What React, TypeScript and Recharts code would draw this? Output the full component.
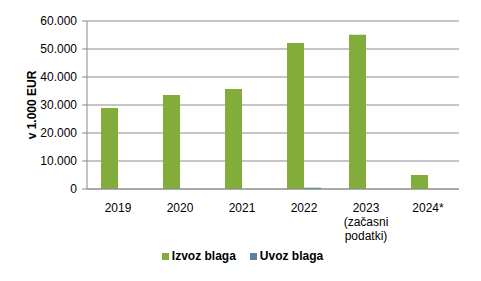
import { Bar, BarChart, CartesianGrid, Legend, XAxis, YAxis } from 'recharts'

const years = ['2019', '2020', '2021', '2022', '2023\n(začasni\npodatki)', '2024*']
const izvozBlaga = [28900, 33600, 35700, 52100, 55100, 5000]
const uvozBlaga = [0, 0, 0, 450, 0, 0]
const yTicks = [0, 10000, 20000, 30000, 40000, 50000, 60000]

const data = years.map((year, i) => ({
    year,
    izvoz: izvozBlaga[i],
    uvoz: uvozBlaga[i],
}))

const font = '"Liberation Sans", Arial, sans-serif'
const green = '#82ad3b'
const blue = '#5b8399'

const formatThousands = (v: number) => v.toLocaleString('de-DE')

const YearTick = (props: any) => {
    const { x, y, payload } = props
    const lines = String(payload.value).split('\n')
    return (
        <text x={x} y={y + 15} textAnchor="middle" fill="#000" fontSize={12} fontFamily={font}>
            {lines.map((line, i) => (
                <tspan key={i} x={x} dy={i === 0 ? 0 : 14}>
                    {line}
                </tspan>
            ))}
        </text>
    )
}

const AxisTitle = (props: any) => {
    const { viewBox } = props
    const cx = 32
    const cy = viewBox.y + viewBox.height / 2
    return (
        <text
            x={cx}
            y={cy}
            transform={`rotate(-90, ${cx}, ${cy})`}
            textAnchor="middle"
            dominantBaseline="central"
            fontSize={12}
            fontWeight="bold"
            fontFamily={font}
            fill="#000"
        >
            v 1.000 EUR
        </text>
    )
}

const legendItems = [
    { label: 'Izvoz blaga', color: green },
    { label: 'Uvoz blaga', color: blue },
]

const ChartLegend = () => (
    <div style={{ display: 'flex', justifyContent: 'center', gap: 14, height: 20, alignItems: 'center', paddingLeft: 26 }}>
        {legendItems.map((item) => (
            <div key={item.label} style={{ display: 'flex', alignItems: 'center', fontFamily: font, fontSize: 12, fontWeight: 'bold', color: '#000' }}>
                <span style={{ width: 7, height: 7, background: item.color, display: 'inline-block', marginRight: 3 }} />
                {item.label}
            </div>
        ))}
    </div>
)

export default function App() {
    return (
        <div style={{ margin: -8, width: 481, height: 281, background: '#fff' }}>
            <BarChart
                width={481}
                height={281}
                data={data}
                margin={{ top: 21, right: 22, bottom: 15, left: 0 }}
                barGap={0}
                barSize={17}
            >
                <CartesianGrid vertical={false} stroke="#8c8c8c" />
                <XAxis
                    dataKey="year"
                    height={57}
                    tickLine={false}
                    axisLine={{ stroke: '#8c8c8c' }}
                    tick={<YearTick />}
                    interval={0}
                />
                <YAxis
                    width={87}
                    domain={[0, 60000]}
                    ticks={yTicks}
                    tickFormatter={formatThousands}
                    tickSize={5}
                    tickMargin={5}
                    axisLine={{ stroke: '#8c8c8c' }}
                    tickLine={{ stroke: '#8c8c8c' }}
                    tick={{ fill: '#000', fontSize: 12, fontFamily: font }}
                    label={<AxisTitle />}
                />
                <Legend verticalAlign="bottom" content={<ChartLegend />} />
                <Bar dataKey="izvoz" name="Izvoz blaga" fill={green} isAnimationActive={false} />
                <Bar dataKey="uvoz" name="Uvoz blaga" fill={blue} isAnimationActive={false} />
            </BarChart>
        </div>
    )
}
